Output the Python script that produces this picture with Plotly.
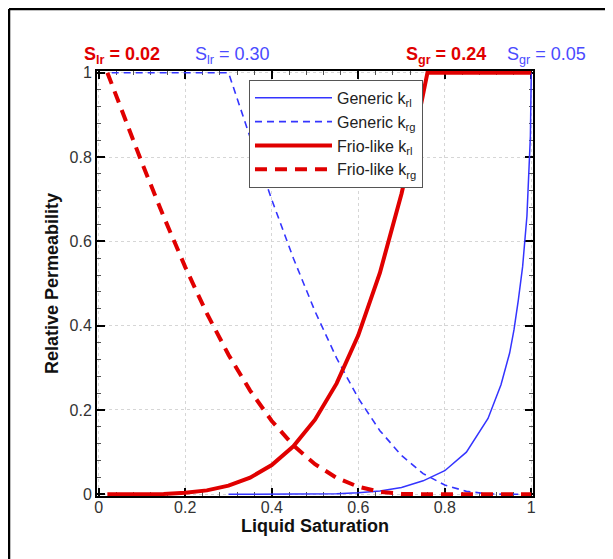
import plotly.graph_objects as go

# ---- data ----
sat_generic_krl = [0.30, 0.40, 0.50, 0.55, 0.60, 0.65, 0.70, 0.75, 0.80, 0.85, 0.90, 0.93, 0.95, 0.96, 0.97, 0.98, 0.99, 0.995, 0.998, 1.0]
generic_krl = [0.0, 0.00003, 0.0005, 0.0015, 0.004, 0.008, 0.016, 0.032, 0.056, 0.10, 0.18, 0.26, 0.335, 0.39, 0.46, 0.54, 0.66, 0.76, 0.85, 1.0]

sat_generic_krg = [0.03, 0.30, 0.35, 0.40, 0.45, 0.50, 0.55, 0.60, 0.65, 0.70, 0.75, 0.80, 0.85, 0.90, 0.95, 1.0]
generic_krg = [1.0, 1.0, 0.847, 0.699, 0.560, 0.434, 0.323, 0.228, 0.151, 0.092, 0.049, 0.022, 0.007, 0.001, 0.0, 0.0]

sat_frio_krl = [0.02, 0.10, 0.15, 0.20, 0.25, 0.30, 0.35, 0.40, 0.45, 0.50, 0.55, 0.60, 0.65, 0.70, 0.73, 0.76, 1.0]
frio_krl = [0.0, 0.0001, 0.001, 0.0035, 0.0093, 0.0205, 0.0396, 0.0695, 0.114, 0.177, 0.263, 0.377, 0.525, 0.713, 0.848, 1.0, 1.0]

sat_frio_krg = [0.02, 0.05, 0.10, 0.15, 0.20, 0.25, 0.30, 0.35, 0.40, 0.45, 0.50, 0.55, 0.60, 0.65, 0.70, 0.76, 1.0]
frio_krg = [1.0, 0.919, 0.786, 0.659, 0.539, 0.429, 0.331, 0.246, 0.174, 0.116, 0.0715, 0.039, 0.018, 0.006, 0.001, 0.0, 0.0]

tick_vals = [0, 0.2, 0.4, 0.6, 0.8, 1]
tick_text = ["0", "0.2", "0.4", "0.6", "0.8", "1"]

BLUE = "#3434ff"
LBLUE = "#4a4aff"
RED = "#e00000"
FONT = "Liberation Sans, Arial, sans-serif"

fig = go.Figure()
fig.add_trace(go.Scatter(x=sat_generic_krl, y=generic_krl, mode="lines",
                         name="Generic k<sub>rl</sub>",
                         line=dict(color=BLUE, width=1.5)))
fig.add_trace(go.Scatter(x=sat_generic_krg, y=generic_krg, mode="lines",
                         name="Generic k<sub>rg</sub>",
                         line=dict(color=BLUE, width=1.6, dash="7px,5px")))
fig.add_trace(go.Scatter(x=sat_frio_krl, y=frio_krl, mode="lines",
                         name="Frio-like k<sub>rl</sub>",
                         line=dict(color=RED, width=4)))
fig.add_trace(go.Scatter(x=sat_frio_krg, y=frio_krg, mode="lines",
                         name="Frio-like k<sub>rg</sub>",
                         line=dict(color=RED, width=4, dash="12px,8px")))

axis_common = dict(
    range=[-0.004, 1.004], tickvals=tick_vals, ticktext=tick_text,
    showline=True, linewidth=2, linecolor="black", mirror="ticks",
    ticks="inside", ticklen=8, tickwidth=2, tickcolor="black",
    showgrid=True, gridcolor="#d6d6d6", griddash="dot", gridwidth=1,
    zeroline=False, layer="below traces",
    tickfont=dict(family=FONT, size=16, color="#333333"),
    minor=dict(ticks="inside", ticklen=4, tickwidth=1, tickcolor="#555555",
               dtick=0.04, showgrid=False),
)

fig.update_xaxes(**axis_common, ticklabelstandoff=-4,
                 title=dict(text="<b>Liquid Saturation</b>", standoff=0,
                            font=dict(family=FONT, size=18, color="#111111")))
fig.update_yaxes(**axis_common,
                 title=dict(text="<b>Relative Permeability</b>", standoff=6,
                            font=dict(family=FONT, size=18, color="#111111")))

def top_label(x, text, color, bold):
    t = f"<b>{text}</b>" if bold else text
    fig.add_annotation(x=x, y=1.036, xref="paper", yref="paper", text=t,
                       showarrow=False, xanchor="center", yanchor="middle",
                       font=dict(family=FONT, size=18, color=color))

top_label(0.057, "S<sub>lr</sub> = 0.02", RED, True)
top_label(0.310, "S<sub>lr</sub> = 0.30", LBLUE, False)
top_label(0.800, "S<sub>gr</sub> = 0.24", RED, True)
top_label(1.030, "S<sub>gr</sub> = 0.05", LBLUE, False)

# outer frame (top and left edges of the picture)
fig.add_shape(type="line", xref="paper", yref="paper", x0=-0.2018, x1=1.3,
              y0=1.146, y1=1.146, line=dict(color="black", width=2.5))
fig.add_shape(type="line", xref="paper", yref="paper", x0=-0.2018, x1=-0.2018,
              y0=1.146, y1=-0.2, line=dict(color="black", width=2.5))

fig.update_layout(
    width=613, height=559,
    margin=dict(l=89, r=88, t=63, b=71),
    paper_bgcolor="white", plot_bgcolor="white",
    font=dict(family=FONT, color="#333333"),
    legend=dict(x=0.3486, y=0.979, xanchor="left", yanchor="top",
                bgcolor="white", bordercolor="#555555", borderwidth=1,
                font=dict(family=FONT, size=16, color="#222222"),
                itemwidth=77, tracegroupgap=0),
    showlegend=True,
)

fig.write_html("out.html")
